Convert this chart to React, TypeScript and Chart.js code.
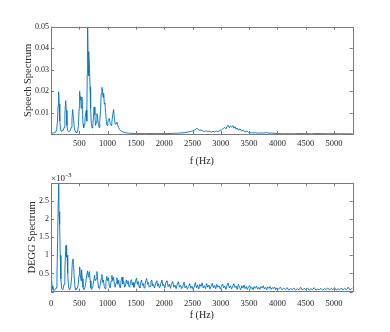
import React, { useEffect, useRef } from "react";
import { Chart, registerables } from "chart.js";

Chart.register(...registerables);

// ---------- DATA ----------
// Speech spectrum (top panel)
const speechFreq = [
  0, 20, 40, 60, 80, 100, 115, 125, 135, 145, 155, 170, 185, 200, 215, 230, 245, 259, 270, 282,
  295, 310, 325, 340, 355, 370, 383, 395, 410, 425, 440, 455, 470, 485, 497, 506, 515, 525, 535, 547,
  557, 567, 578, 590, 600, 612, 623, 632, 640, 647, 655, 663, 671, 680, 690, 700, 712, 725, 738, 750,
  762, 775, 787, 800, 812, 825, 837, 850, 862, 875, 887, 900, 910, 920, 930, 942, 953, 965, 977, 990,
  1003, 1015, 1030, 1045, 1060, 1075, 1090, 1106, 1120, 1135, 1150, 1165, 1180, 1195, 1210, 1230, 1250, 1275, 1300, 1330,
  1370, 1420, 1480, 1550, 1650, 1750, 1850, 1950, 2050, 2150, 2250, 2350, 2420, 2480, 2530, 2560, 2577, 2600, 2625, 2650,
  2680, 2710, 2740, 2770, 2800, 2830, 2860, 2890, 2920, 2950, 2980, 3010, 3040, 3070, 3090, 3110, 3130, 3150, 3170, 3190,
  3210, 3230, 3250, 3270, 3290, 3310, 3340, 3370, 3400, 3430, 3460, 3490, 3530, 3570, 3610, 3650, 3700, 3750, 3800, 3850,
  3900, 3950, 4000, 4100, 4200, 4300, 4400, 4500, 4600, 4700, 4800, 4900, 5000, 5100, 5200, 5330,
];
const speechVal = [
  0.0003, 0.0004, 0.0005, 0.0006, 0.0008, 0.002, 0.006, 0.013, 0.0197, 0.014, 0.006, 0.002, 0.0012, 0.0018, 0.0016, 0.003, 0.009, 0.0155, 0.011, 0.004,
  0.0015, 0.001, 0.0012, 0.0015, 0.003, 0.007, 0.0114, 0.008, 0.0035, 0.0012, 0.0008, 0.0006, 0.0009, 0.004, 0.012, 0.0199, 0.016, 0.0175, 0.012, 0.0172,
  0.009, 0.0045, 0.003, 0.0045, 0.007, 0.0095, 0.011, 0.006, 0.028, 0.05, 0.036, 0.027, 0.0384, 0.03, 0.022, 0.012, 0.005, 0.0028, 0.004, 0.008,
  0.0126, 0.009, 0.004, 0.0055, 0.0095, 0.007, 0.0045, 0.003, 0.006, 0.011, 0.019, 0.0217, 0.02, 0.017, 0.019, 0.014, 0.0145, 0.01, 0.006, 0.004,
  0.0055, 0.0068, 0.0073, 0.005, 0.004, 0.0055, 0.009, 0.0114, 0.007, 0.0045, 0.005, 0.0055, 0.004, 0.003, 0.0022, 0.0015, 0.0012, 0.0009, 0.0007, 0.0005,
  0.0004, 0.0003, 0.0002, 0.0002, 0.00015, 0.0002, 0.00015, 0.0002, 0.0002, 0.0003, 0.0004, 0.0006, 0.0009, 0.0013, 0.0018, 0.0022, 0.0027, 0.0021, 0.0017, 0.0019,
  0.0014, 0.0012, 0.0015, 0.0011, 0.0013, 0.0009, 0.0012, 0.001, 0.0014, 0.0011, 0.0016, 0.0019, 0.0025, 0.0031, 0.0024, 0.0036, 0.0041, 0.0029, 0.0038, 0.0033,
  0.0039, 0.0027, 0.0035, 0.0022, 0.0028, 0.0017, 0.0024, 0.0013, 0.0018, 0.0009, 0.0014, 0.0007, 0.0006, 0.0005, 0.0006, 0.0004, 0.0005, 0.0004, 0.0006, 0.0004,
  0.0005, 0.0003, 0.0002, 0.0001, 0.00015, 0.0001, 0.0002, 0.00015, 0.0001, 0.0002, 0.00015, 0.0001, 0.00015, 0.0001, 0.0001, 0.0001,
];

// DEGG spectrum (bottom panel), values in units of 1e-3
const deggFreq = [
  0, 10, 20, 35, 50, 70, 90, 105, 118, 128, 135, 142, 153, 163, 175, 190, 210, 230, 245, 258,
  265, 275, 285, 295, 310, 330, 350, 365, 378, 388, 398, 410, 425, 440, 460, 478, 495, 506, 515, 530,
  541, 552, 565, 580, 600, 615, 630, 647, 658, 668, 680, 692, 705, 720, 740, 755, 770, 780, 795, 812,
  825, 840, 855, 870, 885, 900, 912, 925, 940, 955, 970, 985, 1000, 1015, 1030, 1045, 1060, 1075, 1090, 1105,
  1120, 1135, 1150, 1165, 1180, 1195, 1210, 1225, 1240, 1255, 1270, 1285, 1300, 1315, 1330, 1345, 1360, 1375, 1390, 1405,
  1420, 1435, 1450, 1465, 1480, 1495, 1510, 1525, 1540, 1555, 1570, 1585, 1600, 1615, 1630, 1645, 1660, 1675, 1690, 1705,
  1720, 1735, 1750, 1765, 1780, 1795, 1810, 1825, 1840, 1855, 1870, 1885, 1900, 1915, 1930, 1945, 1960, 1975, 1990, 2010,
  2030, 2050, 2070, 2090, 2110, 2130, 2150, 2170, 2190, 2210, 2230, 2250, 2270, 2290, 2310, 2330, 2350, 2370, 2390, 2410,
  2430, 2450, 2470, 2490, 2510, 2530, 2550, 2570, 2590, 2610, 2630, 2650, 2670, 2690, 2710, 2730, 2750, 2770, 2790, 2810,
  2830, 2850, 2870, 2890, 2910, 2930, 2950, 2970, 2990, 3010, 3030, 3050, 3070, 3090, 3110, 3130, 3150, 3170, 3190, 3210,
  3230, 3250, 3270, 3290, 3310, 3330, 3350, 3370, 3390, 3410, 3430, 3450, 3470, 3490, 3510, 3530, 3550, 3570, 3590, 3610,
  3630, 3650, 3670, 3690, 3710, 3730, 3750, 3770, 3790, 3810, 3830, 3850, 3870, 3890, 3910, 3930, 3950, 3970, 3990, 4020,
  4050, 4080, 4110, 4140, 4170, 4200, 4230, 4260, 4290, 4320, 4350, 4380, 4410, 4440, 4470, 4500, 4530, 4560, 4590, 4620,
  4650, 4680, 4710, 4740, 4770, 4800, 4830, 4860, 4890, 4920, 4950, 4980, 5010, 5040, 5070, 5100, 5130, 5160, 5190, 5220,
  5250, 5280, 5310, 5330,
];
const deggVal = [
  0.46, 0.35, 0.15, 0.05, 0.03, 0.05, 0.1, 0.4, 1.5, 2.5, 2.98, 2.2, 1.85, 1.0, 0.35, 0.08, 0.05, 0.2, 0.6, 1.1,
  1.27, 0.95, 1.0, 0.5, 0.12, 0.05, 0.15, 0.4, 0.85, 0.9, 0.75, 0.4, 0.1, 0.05, 0.08, 0.15, 0.45, 0.68, 0.5, 0.3,
  0.6, 0.35, 0.12, 0.05, 0.12, 0.25, 0.45, 0.57, 0.4, 0.5, 0.55, 0.3, 0.1, 0.06, 0.15, 0.3, 0.45, 0.3, 0.35, 0.55,
  0.3, 0.1, 0.08, 0.2, 0.35, 0.47, 0.25, 0.32, 0.15, 0.08, 0.25, 0.42, 0.3, 0.38, 0.15, 0.1, 0.28, 0.45, 0.3, 0.4,
  0.2, 0.12, 0.25, 0.38, 0.2, 0.32, 0.15, 0.1, 0.3, 0.4, 0.22, 0.28, 0.12, 0.15, 0.32, 0.22, 0.3, 0.15, 0.12, 0.28,
  0.33, 0.18, 0.25, 0.12, 0.2, 0.3, 0.37, 0.2, 0.28, 0.14, 0.1, 0.25, 0.32, 0.17, 0.22, 0.1, 0.18, 0.3, 0.36, 0.2,
  0.25, 0.12, 0.15, 0.28, 0.32, 0.16, 0.2, 0.1, 0.16, 0.27, 0.3, 0.15, 0.22, 0.1, 0.14, 0.26, 0.32, 0.16, 0.2, 0.1,
  0.25, 0.3, 0.14, 0.2, 0.09, 0.22, 0.28, 0.12, 0.18, 0.08, 0.2, 0.27, 0.12, 0.17, 0.08, 0.15, 0.26, 0.1, 0.16, 0.07,
  0.14, 0.22, 0.09, 0.15, 0.06, 0.12, 0.25, 0.1, 0.18, 0.07, 0.2, 0.14, 0.24, 0.1, 0.16, 0.08, 0.22, 0.12, 0.18, 0.07,
  0.15, 0.23, 0.1, 0.17, 0.08, 0.2, 0.12, 0.16, 0.07, 0.14, 0.21, 0.1, 0.15, 0.06, 0.18, 0.24, 0.1, 0.16, 0.07, 0.15,
  0.22, 0.11, 0.15, 0.06, 0.2, 0.12, 0.05, 0.16, 0.1, 0.18, 0.08, 0.14, 0.06, 0.13, 0.17, 0.08, 0.12, 0.05, 0.14, 0.09,
  0.15, 0.07, 0.12, 0.06, 0.14, 0.1, 0.16, 0.07, 0.12, 0.05, 0.13, 0.09, 0.14, 0.06, 0.11, 0.08, 0.13, 0.05, 0.1, 0.07,
  0.12, 0.05, 0.09, 0.06, 0.11, 0.04, 0.08, 0.06, 0.1, 0.04, 0.08, 0.05, 0.12, 0.04, 0.09, 0.06, 0.1, 0.04, 0.08, 0.05,
  0.11, 0.04, 0.07, 0.05, 0.09, 0.04, 0.08, 0.06, 0.1, 0.04, 0.09, 0.05, 0.11, 0.04, 0.08, 0.05, 0.1, 0.04, 0.09, 0.05,
  0.12, 0.05, 0.08, 0.1,
];

const xTickValues = [0, 500, 1000, 1500, 2000, 2500, 3000, 3500, 4000, 4500, 5000];
const speechTickValues = [0, 0.01, 0.02, 0.03, 0.04, 0.05];
const deggTickValues = [0, 0.5, 1, 1.5, 2, 2.5];
const X_MAX = 5330;
const SPEECH_MAX = 0.05;
const DEGG_MAX = 2.98;
const X_TITLE = "f (Hz)";
const SPEECH_TITLE = "Speech Spectrum";
const DEGG_TITLE = "DEGG Spectrum";

// ---------- STYLE ----------
const LINE = "#0072BD";
const AXIS = "#7a7a7a";
const TEXT = "#262626";
const FONT = "'Liberation Serif', 'Times New Roman', serif";

const boxPlugin = {
  id: "matlabBox",
  afterDatasetsDraw(chart: any) {
    const { ctx, chartArea: a, scales } = chart;
    const xs = scales.x;
    const ys = scales.y;
    ctx.save();
    ctx.strokeStyle = AXIS;
    ctx.lineWidth = 1;
    ctx.beginPath();
    for (const t of xs.ticks) {
      const px = Math.round(xs.getPixelForValue(t.value)) + 0.5;
      ctx.moveTo(px, a.bottom);
      ctx.lineTo(px, a.bottom - 3);
      ctx.moveTo(px, a.top);
      ctx.lineTo(px, a.top + 3);
    }
    for (const t of ys.ticks) {
      const py = Math.round(ys.getPixelForValue(t.value)) + 0.5;
      ctx.moveTo(a.left, py);
      ctx.lineTo(a.left + 3, py);
      ctx.moveTo(a.right, py);
      ctx.lineTo(a.right - 3, py);
    }
    ctx.stroke();
    ctx.strokeRect(
      Math.round(a.left) + 0.5,
      Math.round(a.top) + 0.5,
      Math.round(a.right - a.left),
      Math.round(a.bottom - a.top)
    );
    ctx.restore();
  },
};

const exponentPlugin = {
  id: "exponentLabel",
  afterDraw(chart: any) {
    const { ctx, chartArea: a } = chart;
    ctx.save();
    ctx.fillStyle = TEXT;
    ctx.textBaseline = "alphabetic";
    ctx.textAlign = "left";
    ctx.font = `9px ${FONT}`;
    const base = "\u00d710";
    ctx.fillText(base, a.left, a.top - 2);
    const w = ctx.measureText(base).width;
    ctx.font = `7px ${FONT}`;
    ctx.fillText("-3", a.left + w + 0.5, a.top - 6);
    ctx.restore();
  },
};

function makeConfig(
  freq: number[],
  vals: number[],
  yMax: number,
  yTicks: number[],
  yTitle: string,
  pad: { top: number; bottom: number; left: number; right: number },
  yWidth: number,
  xHeight: number,
  xTickPad: number,
  showX0: boolean,
  plugins: any[]
): any {
  const data = freq.map((f, i) => ({ x: f, y: vals[i] }));
  return {
    type: "line",
    data: {
      datasets: [
        {
          data,
          borderColor: LINE,
          borderWidth: 0.9,
          pointRadius: 0,
          tension: 0,
          fill: false,
        },
      ],
    },
    options: {
      animation: false,
      responsive: false,
      maintainAspectRatio: false,
      parsing: false,
      normalized: true,
      layout: { padding: pad },
      plugins: { legend: { display: false }, tooltip: { enabled: false } },
      scales: {
        x: {
          type: "linear",
          min: 0,
          max: X_MAX,
          grid: { display: false, drawTicks: false },
          border: { display: false },
          afterBuildTicks: (s: any) => {
            s.ticks = xTickValues.map((v) => ({ value: v }));
          },
          afterFit: (s: any) => {
            s.height = xHeight;
          },
          ticks: {
            padding: xTickPad,
            maxRotation: 0,
            autoSkip: false,
            color: TEXT,
            font: { family: FONT, size: 8.5 },
            callback: (v: number) => (v === 0 && !showX0 ? "" : String(v)),
          },
          title: {
            display: true,
            text: X_TITLE,
            color: TEXT,
            padding: 0,
            font: { family: FONT, size: 10 },
          },
        },
        y: {
          type: "linear",
          min: 0,
          max: yMax,
          grid: { display: false, drawTicks: false },
          border: { display: false },
          afterBuildTicks: (s: any) => {
            s.ticks = yTicks.map((v) => ({ value: v }));
          },
          afterFit: (s: any) => {
            s.width = yWidth;
          },
          ticks: {
            padding: 2,
            autoSkip: false,
            color: TEXT,
            font: { family: FONT, size: 8 },
            callback: (v: number) => (v === 0 ? "" : String(v)),
          },
          title: {
            display: true,
            text: yTitle,
            color: TEXT,
            padding: 0,
            font: { family: FONT, size: 10.5 },
          },
        },
      },
    },
    plugins,
  };
}

export default function App() {
  const topRef = useRef<HTMLCanvasElement>(null);
  const botRef = useRef<HTMLCanvasElement>(null);

  useEffect(() => {
    Chart.defaults.font.family = FONT;
    const c1 = new Chart(
      topRef.current as HTMLCanvasElement,
      makeConfig(
        speechFreq,
        speechVal,
        SPEECH_MAX,
        speechTickValues,
        SPEECH_TITLE,
        { top: 26.7, bottom: 5, left: 22, right: 37.3 },
        51 - 22,
        33,
        5,
        false,
        [boxPlugin]
      )
    );
    const c2 = new Chart(
      botRef.current as HTMLCanvasElement,
      makeConfig(
        deggFreq,
        deggVal,
        DEGG_MAX,
        deggTickValues,
        DEGG_TITLE,
        { top: 17.3, bottom: 11, left: 25.5, right: 37.3 },
        51 - 25.5,
        166 - 11 - 125.6,
        7,
        true,
        [boxPlugin, exponentPlugin]
      )
    );
    return () => {
      c1.destroy();
      c2.destroy();
    };
  }, []);

  return (
    <div
      style={{
        position: "fixed",
        left: 0,
        top: 0,
        width: 390,
        height: 332,
        background: "#fff",
      }}
    >
      <canvas
        ref={topRef}
        width={390}
        height={172}
        style={{ position: "absolute", left: 0, top: 0, width: 390, height: 172 }}
      />
      <canvas
        ref={botRef}
        width={390}
        height={166}
        style={{ position: "absolute", left: 0, top: 166, width: 390, height: 166 }}
      />
    </div>
  );
}
